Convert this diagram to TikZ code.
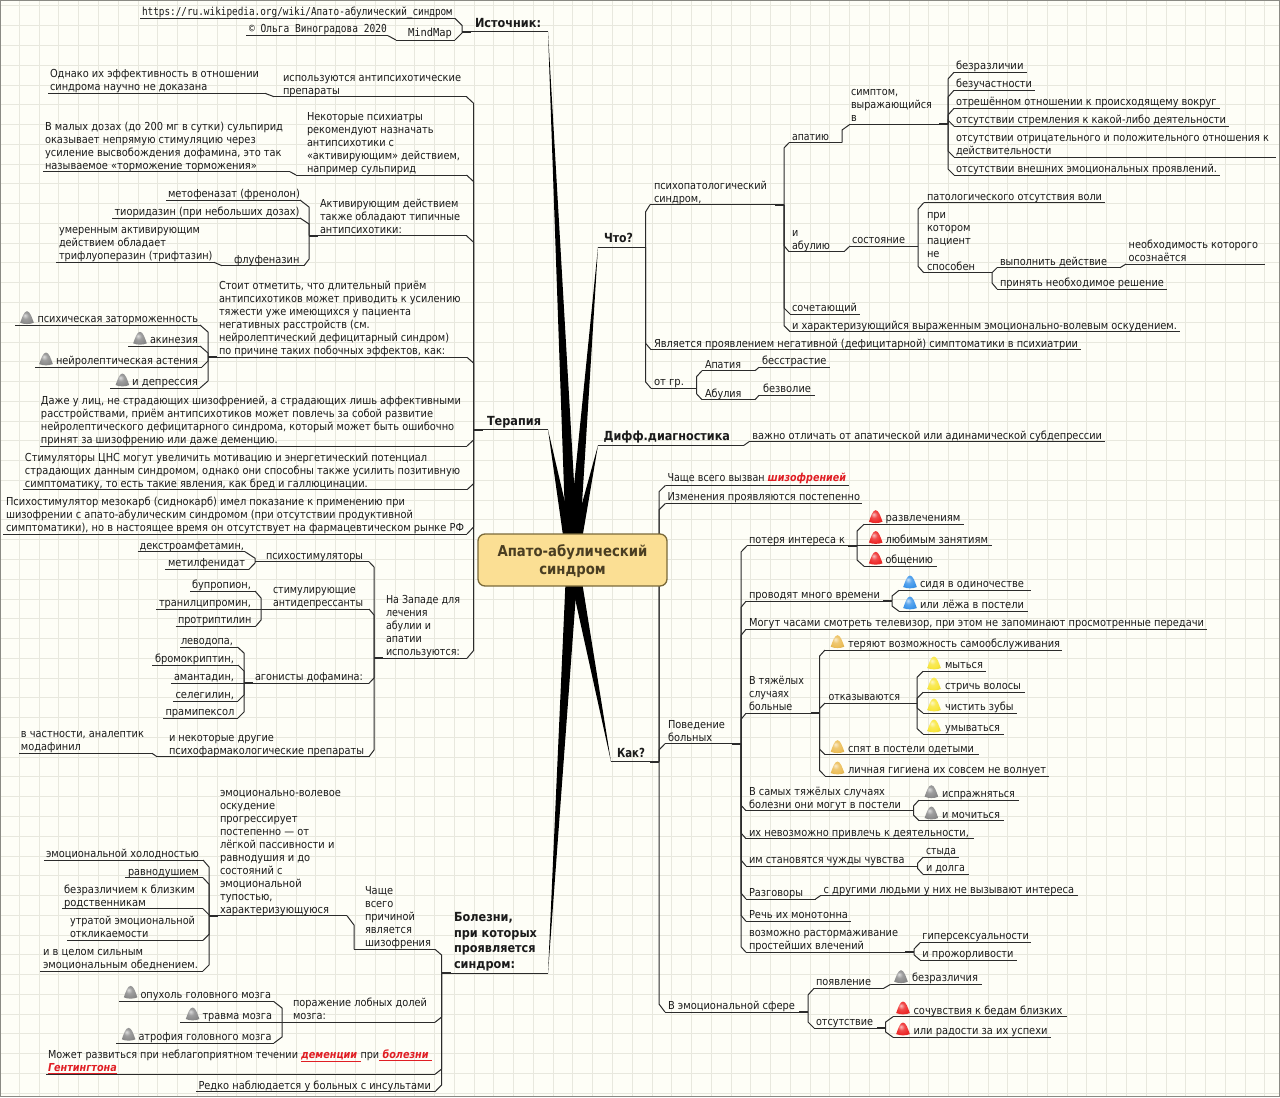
\documentclass[tikz,border=0pt]{standalone}
\usepackage{fontspec}
\usepackage{graphicx}
\setmainfont{DejaVu Sans}
\setmonofont{DejaVu Sans Mono}
\usetikzlibrary{calc}
\pgfdeclarelayer{bg}
\pgfsetlayers{bg,main}
\definecolor{pagebg}{HTML}{FEFEF7}
\definecolor{gridc}{HTML}{E8E8DE}
\definecolor{framec}{HTML}{8A8A84}
\definecolor{linec}{HTML}{2B2B2B}
\definecolor{txtc}{HTML}{1A1A1A}
\definecolor{linkred}{HTML}{E01E24}
\definecolor{boxfill}{HTML}{FBDF94}
\definecolor{boxline}{HTML}{7A6A3A}
\definecolor{boxtxt}{HTML}{4A3E22}
\definecolor{icred}{HTML}{EE2A2A}
\definecolor{icgrey}{HTML}{8C8C8C}
\definecolor{icyel}{HTML}{F8E63C}
\definecolor{icora}{HTML}{ECBE58}
\definecolor{icblu}{HTML}{3E96EA}
\makeatletter
\pgfdeclareradialshading[tikz@ball]{mmball}{\pgfpoint{-8bp}{10bp}}{%
  color(0bp)=(tikz@ball!30!white);
  color(12bp)=(tikz@ball!85!white);
  color(24bp)=(tikz@ball);
  color(40bp)=(tikz@ball!85!black);
  color(50bp)=(tikz@ball!70!black)}
\makeatother
\newlength\mmWd \newlength\mmTd \newlength\mmOd
\newcommand\mmfont{\fontsize{8.25pt}{9.75pt}\selectfont}
\newcommand\mmbf{\fontsize{9.4pt}{11.75pt}\selectfont\bfseries}
\newcommand\mmtt{\fontsize{8.25pt}{9.75pt}\selectfont\ttfamily}
\newcommand\lnk[1]{{\color{linkred}\bfseries\itshape\underline{#1}}}
\newcommand\mmDrop{0pt}
% font, name, x1, x2, y, text x1, text x2, text
\newcommand\mmX[8]{%
  \pgfmathsetlength\mmWd{(#4-#3)*0.75pt}%
  \pgfmathsetlength\mmOd{(#6-#3)*0.75pt}%
  \pgfmathsetlength\mmTd{(#7-#6)*0.75pt}%
  \node[mmnode] (#2) at (#3,#5) {\makebox[\mmWd][l]{\hspace*{\mmOd}\resizebox{\mmTd}{\height}{#1\raisebox{-\mmDrop}[\height][\depth]{\begin{tabular}[b]{@{}l@{}}#8\end{tabular}}}}};
  \draw[ulin] (#2.south west) -- (#2.south east);
}
\newcommand\mmT[7]{\renewcommand\mmDrop{0.9pt}\mmX{\mmfont}{#1}{#2}{#3}{#4}{#5}{#6}{#7}}
\newcommand\mmB[7]{\renewcommand\mmDrop{0pt}\mmX{\mmbf}{#1}{#2}{#3}{#4}{#5}{#6}{#7}}
\newcommand\mmM[7]{\renewcommand\mmDrop{0.5pt}\mmX{\mmtt}{#1}{#2}{#3}{#4}{#5}{#6}{#7}}
\newcommand\mmIcon[3]{%
  \begin{scope}[shift={(#1,#2)}]
    \shade[ball color=#3,shading=mmball] (-6.8,5) .. controls (-5,0) and (-3,-6.5) .. (0,-6.5) .. controls (3,-6.5) and (5,0) .. (6.8,5) .. controls (3,6.8) and (-3,6.8) .. cycle;
  \end{scope}}
\newcommand\mmR[3]{\draw[cnct] (#1.south east) -- ($(#1.south east |- #2.south west)+(0,#3)$) -- (#2.south west);}
\newcommand\mmL[3]{\draw[cnct] (#1.south west) -- ($(#1.south west |- #2.south east)+(0,#3)$) -- (#2.south east);}
\newcommand\mmDR[2]{\draw[cnct] (#1.south east) -- (#2.south west);}
\newcommand\mmDL[2]{\draw[cnct] (#1.south west) -- (#2.south east);}
\newcommand\mmStR[1]{\draw[stub] (#1.south east) -- ++(-9,0);}
\newcommand\mmStL[1]{\draw[stub] (#1.south west) -- ++(9,0);}
\newcommand\mmRoot[1]{\fill[black] (#1) -- ($(ctr.center)+(-6,0)$) -- ($(ctr.center)+(6,0)$) -- cycle;}
\tikzset{
  mmnode/.style={anchor=south west,inner sep=0pt,outer sep=0pt,text=txtc},
  ulin/.style={draw=linec,line width=0.75pt},
  cnct/.style={draw=linec,line width=0.75pt},
  stub/.style={draw=linec,line width=1.3pt},
  gridln/.style={draw=gridc,line width=0.75pt},
}
\begin{document}
\begin{tikzpicture}[x=0.75pt,y=-0.75pt]
\useasboundingbox (0,0) rectangle (1280,1097);
% ---------- source
\mmM{url}{140}{455}{18.3}{142}{452}{https://ru.wikipedia.org/wiki/Апато-абулический\_синдром}
\mmM{mmp}{396}{455}{40}{408}{452}{MindMap}
\mmM{olg}{246}{388}{35.7}{249}{387}{© Ольга Виноградова 2020}
\mmB{ist}{462}{548}{31.7}{475}{541}{Источник:}
% ---------- therapy
\mmB{ter}{473.5}{548}{429.7}{487}{541}{Терапия}
\mmT{isp}{274}{466.5}{96.7}{283}{461}{используются антипсихотические\\препараты}
\mmT{odn}{48}{265}{93.3}{50}{259}{Однако их эффективность в отношении\\синдрома научно не доказана}
\mmT{nek}{296}{466.5}{175}{307}{460}{Некоторые психиатры\\рекомендуют назначать\\антипсихотики с\\«активирующим» действием,\\например сульпирид}
\mmT{vma}{43}{290}{171.7}{45}{283}{В малых дозах (до 200 мг в сутки) сульпирид\\оказывает непрямую стимуляцию через\\усиление высвобождения дофамина, это так\\называемое «торможение торможения»}
\mmT{akt}{309}{466.5}{235.7}{320}{460}{Активирующим действием\\также обладают типичные\\антипсихотики:}
\mmT{met}{166}{300}{200}{168}{300}{метофеназат (френолон)}
\mmT{tio}{112}{300}{218}{114.5}{299.5}{тиоридазин (при небольших дозах)}
\mmT{flu}{222}{304}{265.7}{234}{299.5}{флуфеназин}
\mmT{ume}{56}{214}{262.3}{59}{212.5}{умеренным активирующим\\действием обладает\\трифлуоперазин (трифтазин)}
\mmT{sto}{208}{467}{357.3}{219}{460.5}{Стоит отметить, что длительный приём\\антипсихотиков может приводить к усилению\\тяжести уже имеющихся у пациента\\негативных расстройств (см.\\нейролептический дефицитарный синдром)\\по причине таких побочных эффектов, как:}
\mmT{psi}{15}{200}{325}{37.5}{198}{психическая заторможенность}
\mmT{aki}{128}{200}{346}{150}{198}{акинезия}
\mmT{ney}{35}{202}{367}{56}{198}{нейролептическая астения}
\mmT{dep}{110}{200}{388}{132}{198}{и депрессия}
\mmT{daz}{40}{467}{446}{41}{461}{Даже у лиц, не страдающих шизофренией, а страдающих лишь аффективными\\расстройствами, приём антипсихотиков может повлечь за собой развитие\\нейролептического дефицитарного синдрома, который может быть ошибочно\\принят за шизофрению или даже деменцию.}
\mmT{sti}{23}{467}{489.7}{25}{460}{Стимуляторы ЦНС могут увеличить мотивацию и энергетический потенциал\\страдающих данным синдромом, однако они способны также усилить позитивную\\симптоматику, то есть такие явления, как бред и галлюцинации.}
\mmT{psh}{3}{467}{534}{6}{464}{Психостимулятор мезокарб (сиднокарб) имел показание к применению при\\шизофрении с апато-абулическим синдромом (при отсутствии продуктивной\\симптоматики), но в настоящее время он отсутствует на фармацевтическом рынке РФ}
\mmT{wes}{374}{467}{658.3}{386}{460}{На Западе для\\лечения\\абулии и\\апатии\\используются:}
\mmT{psy}{255}{369}{561.7}{266}{363}{психостимуляторы}
\mmT{dex}{137.5}{245}{551.7}{139.5}{244}{декстроамфетамин,}
\mmT{mef}{165}{249}{569.3}{168}{245}{метилфенидат}
\mmT{san}{261}{369}{609}{273}{363}{стимулирующие\\антидепрессанты}
\mmT{bup}{190}{255}{591}{192}{251}{бупропион,}
\mmT{tra}{156}{261}{609}{159}{251}{транилципромин,}
\mmT{prt}{175.5}{256}{626}{178}{251.5}{протриптилин}
\mmT{ago}{244}{369}{683.3}{255}{363}{агонисты дофамина:}
\mmT{lev}{180}{237.5}{647}{181}{233}{леводопа,}
\mmT{bro}{152}{238}{665}{155}{234}{бромокриптин,}
\mmT{ama}{171}{244}{683.3}{174}{234}{амантадин,}
\mmT{sel}{173}{238}{701}{175.5}{234}{селегилин,}
\mmT{pra}{163}{238}{718}{165.5}{234.5}{прамипексол}
\mmT{dru}{157}{369}{756.7}{169}{364}{и некоторые другие\\психофармакологические препараты}
\mmT{cha}{19}{152}{753.3}{21}{144}{в частности, аналептик\\модафинил}
% ---------- diseases
\mmB{bol}{441.6}{548}{973.3}{454}{537}{Болезни,\\при которых\\проявляется\\синдром:}
\mmT{chs}{354}{435}{949.3}{365}{431}{Чаще\\всего\\причиной\\является\\шизофрения}
\mmT{emv}{209}{347}{915.7}{220}{341}{эмоционально-волевое\\оскудение\\прогрессирует\\постепенно — от\\лёгкой пассивности и\\равнодушия и до\\состояний с\\эмоциональной\\тупостью,\\характеризующуюся}
\mmT{ehl}{44}{203}{860}{46}{199}{эмоциональной холодностью}
\mmT{rav}{125}{203}{877.7}{128}{199}{равнодушием}
\mmT{bzb}{62}{203}{908.7}{64}{195}{безразличием к близким\\родственникам}
\mmT{utr}{67}{203}{940.3}{70}{195}{утратой эмоциональной\\откликаемости}
\mmT{ivc}{40}{203}{971}{43}{198}{и в целом сильным\\эмоциональным обеднением.}
\mmT{por}{282}{435}{1022.3}{293}{427}{поражение лобных долей\\мозга:}
\mmT{opu}{119}{273.5}{1001.3}{140.5}{271}{опухоль головного мозга}
\mmT{trv}{180}{282}{1022.3}{202.5}{272}{травма мозга}
\mmT{atr}{116}{274}{1043}{138.5}{271.5}{атрофия головного мозга}
\mmT{moz}{46}{435}{1074.3}{48}{432}{Может развиться при неблагоприятном течении \lnk{деменции\ }при\lnk{\ болезни\ }\\\lnk{Гентингтона}}
\mmT{red}{196}{435}{1091.7}{198.5}{431}{Редко наблюдается у больных с инсультами}
% ---------- what
\mmB{cht}{598}{645.5}{247}{604}{633}{Что?}
\mmT{psp}{650}{784}{204.7}{654}{767}{психопатологический\\синдром,}
\mmT{apa}{789}{842}{142.7}{792}{829}{апатию}
\mmT{sim}{850}{948}{124.3}{851}{932}{симптом,\\выражающийся\\в}
\mmT{bzr}{954}{1026.5}{72.3}{956}{1023.5}{безразличии}
\mmT{bzu}{954}{1035}{90.3}{956}{1032}{безучастности}
\mmT{otr}{954}{1219.6}{108.3}{956}{1216.6}{отрешённом отношении к происходящему вокруг}
\mmT{ots}{954}{1229}{126.3}{956}{1226}{отсутствии стремления к какой-либо деятельности}
\mmT{otp}{954}{1276}{157}{956}{1269}{отсутствии отрицательного и положительного отношения к\\действительности}
\mmT{otv}{954}{1220}{175}{956}{1217}{отсутствии внешних эмоциональных проявлений.}
\mmT{abu}{789}{844}{251.7}{792}{830}{и\\абулию}
\mmT{sos}{850}{918}{246}{852}{905}{состояние}
\mmT{pat}{923.7}{1105}{202.7}{927}{1102}{патологического отсутствия воли}
\mmT{pri}{923.7}{992}{272.7}{927}{975}{при\\котором\\пациент\\не\\способен}
\mmT{vyp}{997}{1120}{267.7}{1000}{1107}{выполнить действие}
\mmT{pry}{997}{1167}{289}{1000}{1164}{принять необходимое решение}
\mmT{neo}{1126}{1264.5}{264}{1128.6}{1258}{необходимость которого\\осознаётся}
\mmT{soc}{790}{860}{314}{792}{857}{сочетающий}
\mmT{ikh}{790}{1180}{331.7}{792}{1177}{и характеризующийся выраженным эмоционально-волевым оскудением.}
\mmT{yav}{651}{1080.6}{349.7}{654}{1078}{Является проявлением негативной (дефицитарной) симптоматики в психиатрии}
\mmT{otg}{651}{696.5}{388.3}{654}{684}{от гр.}
\mmT{apt}{702}{755}{370.7}{705}{741}{Апатия}
\mmT{abl}{702}{755}{399.7}{705}{741.5}{Абулия}
\mmT{bes}{759}{829.6}{367.3}{762}{826.5}{бесстрастие}
\mmT{bzv}{759}{815}{395.3}{763}{811}{безволие}
% ---------- diff
\mmB{dif}{598}{744}{445.3}{603.5}{730}{Дифф.диагностика}
\mmT{vaz}{749}{1105}{441.7}{752.4}{1102}{важно отличать от апатической или адинамической субдепрессии}
% ---------- how
\mmB{kak}{611}{659}{761.7}{617}{645}{Как?}
\mmT{chv}{665.5}{849}{485.3}{667.5}{846}{Чаще всего вызван \lnk{шизофренией}}
\mmT{izm}{665.5}{862}{503.3}{667.5}{860}{Изменения проявляются постепенно}
\mmT{pov}{665}{741}{743.7}{668}{725}{Поведение\\больных}
\mmT{pin}{747}{857}{545.7}{749}{845}{потеря интереса к}
\mmT{raz}{864}{963.5}{524.3}{885.5}{960.5}{развлечениям}
\mmT{lyu}{857}{992}{545.7}{885.5}{988}{любимым занятиям}
\mmT{obs}{864}{937}{566.3}{885.5}{933}{общению}
\mmT{prv}{746}{892}{601.3}{749}{880}{проводят много времени}
\mmT{sid}{899}{1030.6}{590.3}{920}{1024}{сидя в одиночестве}
\mmT{lez}{899}{1028}{611.3}{920}{1024}{или лёжа в постели}
\mmT{mog}{746}{1207}{629.3}{749}{1204}{Могут часами смотреть телевизор, при этом не запоминают просмотренные передачи}
\mmT{vty}{746}{819.6}{713.3}{749}{804}{В тяжёлых\\случаях\\больные}
\mmT{tep}{825}{1062}{650}{848}{1060}{теряют возможность самообслуживания}
\mmT{otk}{825}{917}{703}{828.6}{900}{отказываются}
\mmT{myt}{923}{986}{671.3}{945}{983}{мыться}
\mmT{str}{923}{1024.5}{692.3}{945}{1021}{стричь волосы}
\mmT{chi}{923}{1017}{713}{945}{1013.5}{чистить зубы}
\mmT{umy}{923}{1004}{734}{945}{1000}{умываться}
\mmT{spy}{825}{979}{754.7}{848}{974}{спят в постели одетыми}
\mmT{lic}{825}{1049}{776}{848}{1046}{личная гигиена их совсем не волнует}
\mmT{vsa}{746}{913.5}{810.7}{749}{901}{В самых тяжёлых случаях\\болезни они могут в постели}
\mmT{ipr}{919}{1019}{800}{942}{1015}{испражняться}
\mmT{moc}{919}{1004}{820.7}{942}{1000}{и мочиться}
\mmT{ikn}{746}{973.5}{838.7}{749}{969}{их невозможно привлечь к деятельности,}
\mmT{ims}{746}{917.5}{866}{749}{904.5}{им становятся чужды чувства}
\mmT{sty}{923}{959}{857.3}{926}{956}{стыда}
\mmT{dol}{923}{968.6}{874.3}{926}{965}{и долга}
\mmT{rzg}{746}{815.5}{899}{749}{803}{Разговоры}
\mmT{sdr}{820.4}{1077.6}{895.7}{823.7}{1074}{с другими людьми у них не вызывают интереса}
\mmT{rec}{746}{851}{921.3}{749}{848}{Речь их монотонна}
\mmT{voz}{746}{914}{952.3}{749}{898}{возможно растормаживание\\простейших влечений}
\mmT{gip}{920.4}{1031.4}{942.3}{922.4}{1029}{гиперсексуальности}
\mmT{prz}{920.4}{1017}{960.3}{922.4}{1013.5}{и прожорливости}
\mmT{vem}{665}{808}{1012}{668}{795}{В эмоциональной сфере}
\mmT{poy}{814}{883.7}{988.3}{816}{871}{появление}
\mmT{bzl}{890.6}{981.6}{984.3}{912}{978}{безразличия}
\mmT{otu}{814}{885.7}{1028}{816}{873}{отсутствие}
\mmT{sou}{893}{1066.5}{1016.7}{913.5}{1062.5}{сочувствия к бедам близких}
\mmT{ili}{893}{1051}{1037.3}{913.5}{1047.5}{или радости за их успехи}
% ---------- central box
\node[draw=boxline,fill=boxfill,rounded corners=5.25pt,line width=1pt,minimum width=141.75pt,minimum height=39pt,inner sep=0pt,text=boxtxt] (ctr) at (572.5,560) {\resizebox{112.5pt}{\height}{\fontsize{11.25pt}{13.5pt}\selectfont\bfseries\raisebox{-1.5pt}[\height][\depth]{\begin{tabular}{@{}c@{}}Апато-абулический\\синдром\end{tabular}}}};
% ---------- icons
\mmIcon{27}{317.7}{icgrey}\mmIcon{140}{338.3}{icgrey}\mmIcon{46}{359}{icgrey}\mmIcon{122.4}{380}{icgrey}
\mmIcon{130.6}{992.3}{icgrey}\mmIcon{192.6}{1014}{icgrey}\mmIcon{128.6}{1034.3}{icgrey}
\mmIcon{875.7}{516.7}{icred}\mmIcon{875.7}{537.5}{icred}\mmIcon{875.7}{558.3}{icred}
\mmIcon{910}{582}{icblu}\mmIcon{910}{603}{icblu}
\mmIcon{837.5}{641.7}{icora}\mmIcon{837.5}{746.7}{icora}\mmIcon{837.5}{768}{icora}
\mmIcon{934}{663}{icyel}\mmIcon{934}{684}{icyel}\mmIcon{934}{705}{icyel}\mmIcon{934}{726}{icyel}
\mmIcon{931.4}{791.7}{icgrey}\mmIcon{931.4}{813}{icgrey}\mmIcon{901}{976.7}{icgrey}
\mmIcon{903}{1008}{icred}\mmIcon{903}{1029}{icred}
% ---------- background, connectors
\begin{pgfonlayer}{bg}
\fill[pagebg] (0,0) rectangle (1280,1097);
\foreach \k in {0,...,64}{\draw[gridln] ({19.4+\k*19.77},0) -- ({19.4+\k*19.77},1097);}
\foreach \k in {-1,0,...,54}{\draw[gridln] (0,{25.7+\k*19.77}) -- (1280,{25.7+\k*19.77});}
\draw[draw=framec,line width=1pt] (0.5,0.5) rectangle (1279.5,1096.5);
\mmRoot{ist.south east}\mmRoot{ter.south east}\mmRoot{bol.south east}
\mmRoot{cht.south west}\mmRoot{dif.south west}\mmRoot{kak.south west}
\mmL{ist}{url}{7}\mmL{ist}{mmp}{-7}\mmDL{mmp}{olg}\mmStL{ist}
\mmL{ter}{isp}{6.5}\mmDL{isp}{odn}\mmL{ter}{nek}{6.5}\mmDL{nek}{vma}\mmL{ter}{akt}{6.5}
\mmL{akt}{met}{7}\mmL{akt}{tio}{6}\mmL{akt}{flu}{-6.5}\mmDL{flu}{ume}\mmStL{akt}
\mmL{ter}{sto}{5.7}\mmL{sto}{psi}{7}\mmL{sto}{aki}{7}\mmL{sto}{ney}{-6}\mmL{sto}{dep}{-7}\mmStL{sto}
\mmL{ter}{daz}{-6}\mmL{ter}{sti}{-6}\mmL{ter}{psh}{-7}\mmL{ter}{wes}{-7.7}\mmStL{ter}
\mmL{wes}{psy}{5.3}\mmL{psy}{dex}{6.5}\mmL{psy}{mef}{-6.3}
\mmL{wes}{san}{6}\mmL{san}{bup}{7}\mmL{san}{tra}{0}\mmL{san}{prt}{-6}
\mmL{wes}{ago}{-5.3}\mmL{ago}{lev}{6}\mmL{ago}{bro}{6}\mmL{ago}{ama}{0}\mmL{ago}{sel}{-6}\mmL{ago}{pra}{-6}\mmStL{ago}
\mmL{wes}{dru}{-6.7}\mmDL{dru}{cha}\mmStL{wes}
\mmL{bol}{chs}{5.7}\mmL{chs}{emv}{9.3}
\mmL{emv}{ehl}{7}\mmL{emv}{rav}{6.5}\mmL{emv}{bzb}{6}\mmL{emv}{utr}{-6}\mmL{emv}{ivc}{-6}\mmStL{emv}
\mmL{bol}{por}{-5.3}\mmL{por}{opu}{6.7}\mmL{por}{trv}{0}\mmL{por}{atr}{-6}
\mmL{bol}{moz}{-5.3}\mmL{bol}{red}{-6.7}\mmStL{bol}
\mmR{cht}{psp}{7.3}\mmR{psp}{apa}{5.3}\mmR{apa}{sim}{5.7}
\mmR{sim}{bzr}{6.7}\mmR{sim}{bzu}{6.7}\mmR{sim}{otr}{6.7}\mmR{sim}{ots}{-6}\mmR{sim}{otp}{-6}\mmR{sim}{otv}{-6}\mmStR{sim}
\mmR{psp}{abu}{-6}\mmDR{abu}{sos}\mmR{sos}{pat}{6.5}\mmR{sos}{pri}{-6.5}
\mmR{pri}{vyp}{5}\mmR{pri}{pry}{-6}\mmDR{vyp}{neo}
\mmR{psp}{soc}{-6}\mmR{psp}{ikh}{-6}\mmStR{psp}
\mmR{cht}{yav}{-6.5}\mmR{cht}{otg}{-6.5}\mmR{otg}{apt}{6}\mmR{otg}{abl}{-6}\mmDR{apt}{bes}\mmDR{abl}{bzv}
\mmDR{dif}{vaz}
\mmR{kak}{chv}{6.4}\mmR{kak}{izm}{6.5}\mmR{kak}{pov}{6.3}\mmR{kak}{vem}{-8}\mmStR{kak}
\mmR{pov}{pin}{6.3}\mmR{pin}{raz}{6.7}\mmR{pin}{lyu}{0}\mmR{pin}{obs}{-6.3}
\mmR{pov}{prv}{6}\mmR{prv}{sid}{5.7}\mmR{prv}{lez}{-5.3}\mmR{pov}{mog}{6}
\mmR{pov}{vty}{6}\mmR{vty}{tep}{6}\mmR{vty}{otk}{5.5}\mmR{vty}{spy}{-5.5}\mmR{vty}{lic}{-5.5}\mmStR{vty}
\mmR{otk}{myt}{6}\mmR{otk}{str}{6}\mmR{otk}{chi}{-5}\mmR{otk}{umy}{-5.5}
\mmR{pov}{vsa}{-5.5}\mmR{vsa}{ipr}{6}\mmR{vsa}{moc}{-5.5}
\mmR{pov}{ikn}{-5.7}\mmR{pov}{ims}{-6}\mmR{ims}{sty}{6}\mmR{ims}{dol}{-6}
\mmR{pov}{rzg}{-6}\mmDR{rzg}{sdr}\mmR{pov}{rec}{-6}\mmR{pov}{voz}{-5.6}\mmR{voz}{gip}{6.7}\mmR{voz}{prz}{-5.5}\mmStR{voz}\mmStR{pov}
\mmR{vem}{poy}{6.7}\mmDR{poy}{bzl}\mmR{vem}{otu}{-6}\mmR{otu}{sou}{5.3}\mmR{otu}{ili}{-5.3}\mmStR{vem}\mmStR{otu}\mmStR{pin}\mmStR{prv}
\end{pgfonlayer}
\end{tikzpicture}
\end{document}
